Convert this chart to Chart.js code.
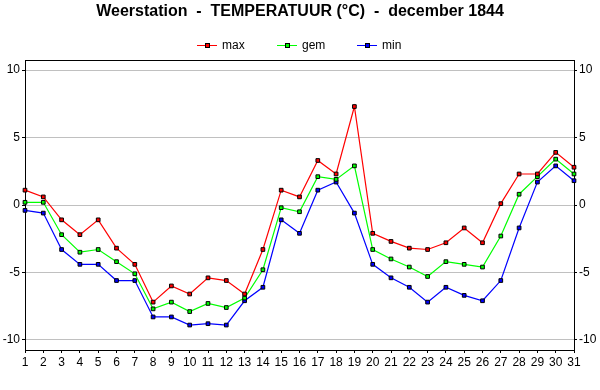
<!DOCTYPE html>
<html>
<head>
<meta charset="utf-8">
<script src="https://cdn.jsdelivr.net/npm/chart.js@4/dist/chart.umd.min.js"></script>
<style>
html,body{margin:0;padding:0;background:#fff;}
#wrap{width:600px;height:390px;}
</style>
</head>
<body>
<div id="wrap"><canvas id="c" width="600" height="390"></canvas></div>
<script>
const titleText = "Weerstation  -  TEMPERATUUR (\u00B0C)  -  december 1844";
const days = ["1","2","3","4","5","6","7","8","9","10","11","12","13","14","15","16","17","18","19","20","21","22","23","24","25","26","27","28","29","30","31"];
const yTicks = [-10, -5, 0, 5, 10];
const seriesNames = ["max", "gem", "min"];
const seriesColors = ["#ff0000", "#00ff00", "#0000ff"];
const maxTemp = [1.1, 0.6, -1.1, -2.2, -1.1, -3.2, -4.4, -7.2, -6.0, -6.6, -5.4, -5.6, -6.6, -3.3, 1.1, 0.6, 3.3, 2.3, 7.3, -2.1, -2.7, -3.2, -3.3, -2.8, -1.7, -2.8, 0.1, 2.3, 2.3, 3.9, 2.8];
const gemTemp = [0.2, 0.2, -2.2, -3.5, -3.3, -4.2, -5.1, -7.7, -7.2, -7.9, -7.3, -7.6, -6.9, -4.8, -0.2, -0.5, 2.1, 1.9, 2.9, -3.3, -4.0, -4.6, -5.3, -4.2, -4.4, -4.6, -2.3, 0.8, 2.1, 3.4, 2.3];
const minTemp = [-0.4, -0.6, -3.3, -4.4, -4.4, -5.6, -5.6, -8.3, -8.3, -8.9, -8.8, -8.9, -7.1, -6.1, -1.1, -2.1, 1.1, 1.7, -0.6, -4.4, -5.4, -6.1, -7.2, -6.1, -6.7, -7.1, -5.6, -1.7, 1.7, 2.9, 1.8];
const seriesData = [maxTemp, gemTemp, minTemp];

const FONT = "'Liberation Sans', Arial, sans-serif";
Chart.defaults.font.family = FONT;
Chart.defaults.font.size = 12;
Chart.defaults.color = "#000";

const frame = {
  id: "frame",
  afterDraw(chart) {
    const ctx = chart.ctx;
    const a = chart.chartArea;
    ctx.save();
    ctx.strokeStyle = "#000";
    ctx.lineWidth = 1;
    ctx.beginPath();
    ctx.moveTo(Math.round(a.left), Math.round(a.top) + 0.5);
    ctx.lineTo(Math.round(a.right) + 1, Math.round(a.top) + 0.5);
    ctx.stroke();
    ctx.fillStyle = "#000";
    ctx.font = "bold 16px " + FONT;
    ctx.textAlign = "center";
    ctx.textBaseline = "middle";
    ctx.fillText(titleText, 300, 12);
    ctx.font = "12px " + FONT;
    ctx.textAlign = "left";
    for (let i = 0; i < seriesNames.length; i++) {
      const x0 = 197 + 80 * i, y = 45.5;
      ctx.strokeStyle = seriesColors[i];
      ctx.beginPath();
      ctx.moveTo(x0, y);
      ctx.lineTo(x0 + 20, y);
      ctx.stroke();
      ctx.fillStyle = seriesColors[i];
      ctx.fillRect(x0 + 8, y - 2.5, 5, 5);
      ctx.strokeStyle = "#000";
      ctx.strokeRect(x0 + 8.5, y - 2, 4, 4);
      ctx.fillStyle = "#000";
      ctx.fillText(seriesNames[i], x0 + 25, y);
    }
    ctx.restore();
  }
};

const fixTicks = (scale) => { scale.ticks = yTicks.map(v => ({ value: v })); };

new Chart(document.getElementById("c"), {
  type: "line",
  data: {
    labels: days,
    datasets: seriesNames.map((n, i) => ({
      label: n,
      data: seriesData[i],
      borderColor: seriesColors[i],
      backgroundColor: seriesColors[i],
      borderWidth: 1.2,
      pointStyle: "rect",
      pointRadius: 2.6,
      pointBorderWidth: 1,
      pointBorderColor: "#000",
      pointBackgroundColor: seriesColors[i],
      tension: 0,
      fill: false,
      yAxisID: "y"
    }))
  },
  options: {
    responsive: false,
    animation: false,
    devicePixelRatio: 1,
    layout: { padding: { top: 60, left: 0, right: 0, bottom: 0 } },
    plugins: {
      legend: { display: false },
      title: { display: false },
      tooltip: { enabled: false }
    },
    scales: {
      x: {
        type: "category",
        offset: false,
        grid: { display: true, drawOnChartArea: false, drawTicks: true, tickLength: 3, color: "#000", tickColor: "#000" },
        border: { display: true, color: "#000", width: 1 },
        ticks: { autoSkip: false, maxRotation: 0, padding: 2, color: "#000", font: { size: 12 } },
        afterFit(s) { s.height = 40; }
      },
      y: {
        type: "linear",
        position: "left",
        min: -10.75,
        max: 10.75,
        afterBuildTicks: fixTicks,
        grid: { color: "#c0c0c0", tickColor: "#000", tickLength: 3, lineWidth: 1 },
        border: { display: true, color: "#000", width: 1 },
        ticks: { padding: 2, color: "#000", font: { size: 12 } },
        afterFit(s) { s.width = 25; }
      },
      y2: {
        type: "linear",
        position: "right",
        min: -10.75,
        max: 10.75,
        afterBuildTicks: fixTicks,
        grid: { drawOnChartArea: false, tickColor: "#000", color: "#000", tickLength: 3 },
        border: { display: true, color: "#000", width: 1 },
        ticks: { padding: 2, color: "#000", font: { size: 12 } },
        afterFit(s) { s.width = 26; }
      }
    }
  },
  plugins: [frame]
});
</script>
</body>
</html>
